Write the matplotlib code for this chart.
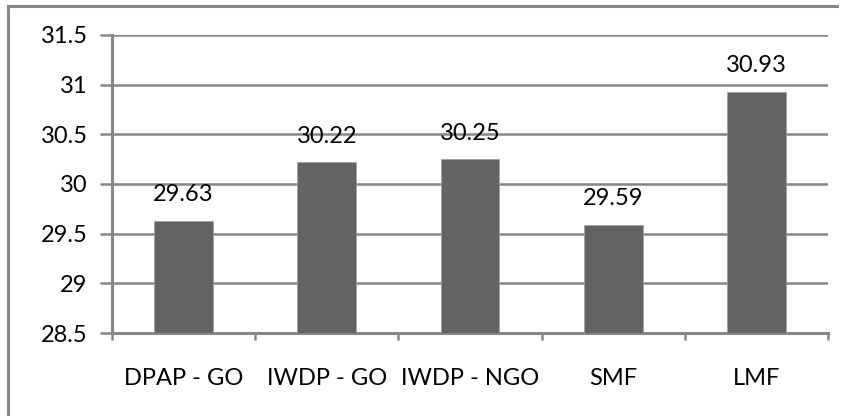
import matplotlib.pyplot as plt
from matplotlib.lines import Line2D

categories = ['DPAP - GO', 'IWDP - GO', 'IWDP - NGO', 'SMF', 'LMF']
values = [29.63, 30.22, 30.25, 29.59, 30.93]
y_ticks = [28.5, 29, 29.5, 30, 30.5, 31, 31.5]
y_labels = ['28.5', '29', '29.5', '30', '30.5', '31', '31.5']

plt.rcParams['font.family'] = ['Lato', 'DejaVu Sans']

grid_col = '#878787'
bar_col = '#636363'
fsize = 17

fig = plt.figure(figsize=(8.47, 4.16), dpi=100)
ax = fig.add_axes([0.1322, 0.1995, 0.8454, 0.7164])

x = list(range(len(categories)))
ax.bar(x, [v - 28.5 for v in values], bottom=28.5, width=0.41, color=bar_col,
       edgecolor='#a0a0a0', linewidth=0.5, zorder=3)
for xi, v in zip(x, values):
    ax.text(xi, v + 0.26, f'{v:.2f}', ha='center', va='center', fontsize=fsize, color='black')

ax.set_xlim(-0.5, len(categories) - 0.5)
ax.set_ylim(28.5, 31.5)
ax.set_yticks(y_ticks)
ax.set_yticklabels(y_labels)
ax.set_xticks(x)
ax.set_xticklabels(categories)
ax.set_xticks([i + 0.5 for i in range(-1, len(categories))], minor=True)

ax.grid(axis='y', color=grid_col, linewidth=1.8, zorder=1)
for s in ['top', 'right']:
    ax.spines[s].set_visible(False)
for s in ['left', 'bottom']:
    ax.spines[s].set_color(grid_col)
    ax.spines[s].set_linewidth(2.2)

ax.tick_params(axis='y', length=8.5, width=1.8, color=grid_col, labelsize=fsize, pad=9)
ax.tick_params(axis='x', which='major', length=0, labelsize=fsize, pad=25)
ax.tick_params(axis='x', which='minor', length=5, width=1.8, color=grid_col)

# outer chart frame (top and left edges visible)
fig.add_artist(Line2D([8 / 847, 8 / 847], [0, 1 - 6 / 416], color=grid_col, linewidth=2.2,
                      transform=fig.transFigure))
fig.add_artist(Line2D([8 / 847, 837 / 847], [1 - 6 / 416, 1 - 6 / 416], color=grid_col,
                      linewidth=2.2, transform=fig.transFigure))

fig.savefig('out.png', dpi=100)
